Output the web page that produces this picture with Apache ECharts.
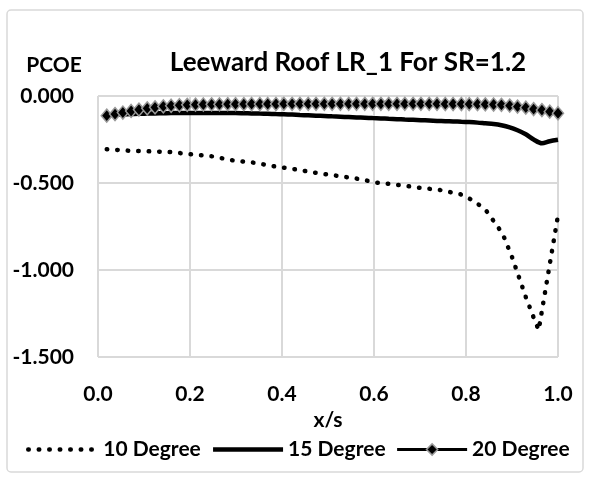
<!DOCTYPE html>
<html>
<head>
<meta charset="utf-8">
<script src="https://cdn.jsdelivr.net/npm/echarts@6/dist/echarts.min.js"></script>
<style>
  html, body { margin: 0; padding: 0; background: #fff; }
  #chart { width: 590px; height: 479px; }
</style>
</head>
<body>
<div id="chart"></div>
<script>
// x/s stations shared by 15 and 20 degree
const xs = [0.019, 0.037, 0.054, 0.072, 0.089, 0.107, 0.124, 0.142, 0.159, 0.177,
  0.194, 0.212, 0.229, 0.247, 0.264, 0.282, 0.299, 0.317, 0.334, 0.352,
  0.369, 0.387, 0.404, 0.422, 0.439, 0.457, 0.474, 0.492, 0.509, 0.527,
  0.545, 0.562, 0.580, 0.597, 0.615, 0.632, 0.650, 0.667, 0.685, 0.702,
  0.720, 0.737, 0.755, 0.772, 0.790, 0.807, 0.825, 0.842, 0.860, 0.877,
  0.895, 0.912, 0.930, 0.947, 0.965, 0.982, 1.000];

const deg15 = [-0.110, -0.108, -0.106, -0.104, -0.102, -0.101, -0.100, -0.099, -0.098, -0.098,
  -0.097, -0.097, -0.097, -0.097, -0.097, -0.098, -0.098, -0.099, -0.100, -0.101,
  -0.102, -0.104, -0.105, -0.107, -0.109, -0.111, -0.113, -0.115, -0.117, -0.119,
  -0.121, -0.123, -0.125, -0.127, -0.129, -0.131, -0.133, -0.135, -0.137, -0.139,
  -0.141, -0.143, -0.145, -0.146, -0.148, -0.150, -0.153, -0.157, -0.161, -0.168,
  -0.180, -0.197, -0.220, -0.250, -0.272, -0.260, -0.252];

const deg20 = [-0.113, -0.104, -0.095, -0.086, -0.078, -0.071, -0.065, -0.060, -0.056, -0.053,
  -0.051, -0.050, -0.049, -0.048, -0.048, -0.047, -0.047, -0.047, -0.046, -0.046,
  -0.046, -0.046, -0.045, -0.045, -0.045, -0.045, -0.045, -0.045, -0.045, -0.045,
  -0.045, -0.045, -0.045, -0.045, -0.045, -0.045, -0.045, -0.045, -0.045, -0.045,
  -0.045, -0.045, -0.046, -0.046, -0.046, -0.047, -0.047, -0.048, -0.049, -0.051,
  -0.055, -0.061, -0.067, -0.075, -0.081, -0.090, -0.099];

// 10 degree curve has its own stations (sharp dip near the trailing edge)
const xs10 = [0.019, 0.065, 0.112, 0.157, 0.202, 0.248, 0.293, 0.338, 0.383, 0.428,
  0.472, 0.518, 0.563, 0.607, 0.653, 0.698, 0.743, 0.788, 0.809, 0.828,
  0.845, 0.858, 0.872, 0.883, 0.900, 0.915, 0.930, 0.946, 0.958, 1.000];
const deg10 = [-0.306, -0.314, -0.318, -0.322, -0.335, -0.347, -0.370, -0.383, -0.404, -0.421,
  -0.441, -0.458, -0.475, -0.498, -0.511, -0.527, -0.540, -0.565, -0.592, -0.625,
  -0.663, -0.711, -0.763, -0.814, -0.925, -1.040, -1.155, -1.266, -1.345, -0.686];

const seriesNames = ['10 Degree', '15 Degree', '20 Degree'];
const xTicks = { min: 0, max: 1, step: 0.2 };
const yTicks = { min: -1.5, max: 0, step: 0.5 };

const FONT = 'Lato';
const gridColor = '#d9d9d9';
const dotted = [0.5, 10];

const chart = echarts.init(document.getElementById('chart'), null, { renderer: 'canvas' });

chart.setOption({
  animation: false,
  backgroundColor: '#fff',
  textStyle: { fontFamily: FONT, fontWeight: 'bold', color: '#000' },
  graphic: [
    {
      type: 'rect',
      shape: { x: 7, y: 10, width: 576, height: 462, r: 4 },
      style: { fill: 'none', stroke: gridColor, lineWidth: 1.5 },
      z: -10,
    },
    {
      type: 'text',
      x: 348, y: 63,
      style: {
        text: 'Leeward Roof LR_1 For SR=1.2',
        font: 'bold 26px ' + FONT,
        fill: '#000',
        textAlign: 'center',
        textVerticalAlign: 'middle',
      },
    },
    {
      type: 'text',
      x: 54, y: 65,
      style: {
        text: 'PCOE',
        font: 'bold 21px ' + FONT,
        fill: '#000',
        textAlign: 'center',
        textVerticalAlign: 'middle',
      },
    },
  ],
  grid: { left: 98, right: 32, top: 96, bottom: 122 },
  legend: {
    bottom: 19,
    left: 26,
    width: 564,
    padding: 0,
    itemWidth: 70,
    itemHeight: 14,
    itemGap: 10,
    textStyle: { fontFamily: FONT, fontWeight: 'bold', fontSize: 21, color: '#000' },
    data: [
      {
        name: seriesNames[0],
        itemStyle: { opacity: 0 },
        lineStyle: { width: 4.5, type: dotted, cap: 'round', color: '#000' },
      },
      {
        name: seriesNames[1],
        itemStyle: { opacity: 0 },
        lineStyle: { width: 4.5, color: '#000' },
      },
      {
        name: seriesNames[2],
        itemStyle: { color: '#000', borderColor: '#999', borderWidth: 1.5 },
        lineStyle: { width: 3, color: '#000' },
      },
    ],
  },
  xAxis: {
    type: 'value',
    min: xTicks.min,
    max: xTicks.max,
    interval: xTicks.step,
    name: 'x/s',
    nameLocation: 'middle',
    nameGap: 44,
    nameTextStyle: { fontFamily: FONT, fontWeight: 'bold', fontSize: 21, color: '#000' },
    axisLine: { show: false },
    axisTick: { show: false },
    axisLabel: {
      margin: 27,
      fontFamily: FONT, fontWeight: 'bold', fontSize: 21, color: '#000',
      formatter: v => v.toFixed(1),
    },
    splitLine: { show: true, lineStyle: { color: gridColor, width: 2 } },
  },
  yAxis: {
    type: 'value',
    min: yTicks.min,
    max: yTicks.max,
    interval: yTicks.step,
    axisLine: { show: false },
    axisTick: { show: false },
    axisLabel: {
      margin: 24,
      fontFamily: FONT, fontWeight: 'bold', fontSize: 21, color: '#000',
      formatter: v => v.toFixed(3),
    },
    splitLine: { show: true, lineStyle: { color: gridColor, width: 2 } },
  },
  series: [
    {
      name: seriesNames[0],
      type: 'line',
      data: xs10.map((x, i) => [x, deg10[i]]),
      symbol: 'none',
      color: '#000',
      lineStyle: { color: '#000', width: 4.5, type: dotted, cap: 'round' },
      z: 2,
    },
    {
      name: seriesNames[1],
      type: 'line',
      data: xs.map((x, i) => [x, deg15[i]]),
      symbol: 'none',
      smooth: 0.3,
      color: '#000',
      lineStyle: { color: '#000', width: 4.5 },
      z: 3,
    },
    {
      name: seriesNames[2],
      type: 'line',
      data: xs.map((x, i) => [x, deg20[i]]),
      symbol: 'diamond',
      symbolSize: [11, 13],
      color: '#000',
      itemStyle: { color: '#000', borderColor: '#999', borderWidth: 1.5 },
      lineStyle: { color: '#000', width: 3 },
      z: 4,
    },
  ],
});
</script>
</body>
</html>
